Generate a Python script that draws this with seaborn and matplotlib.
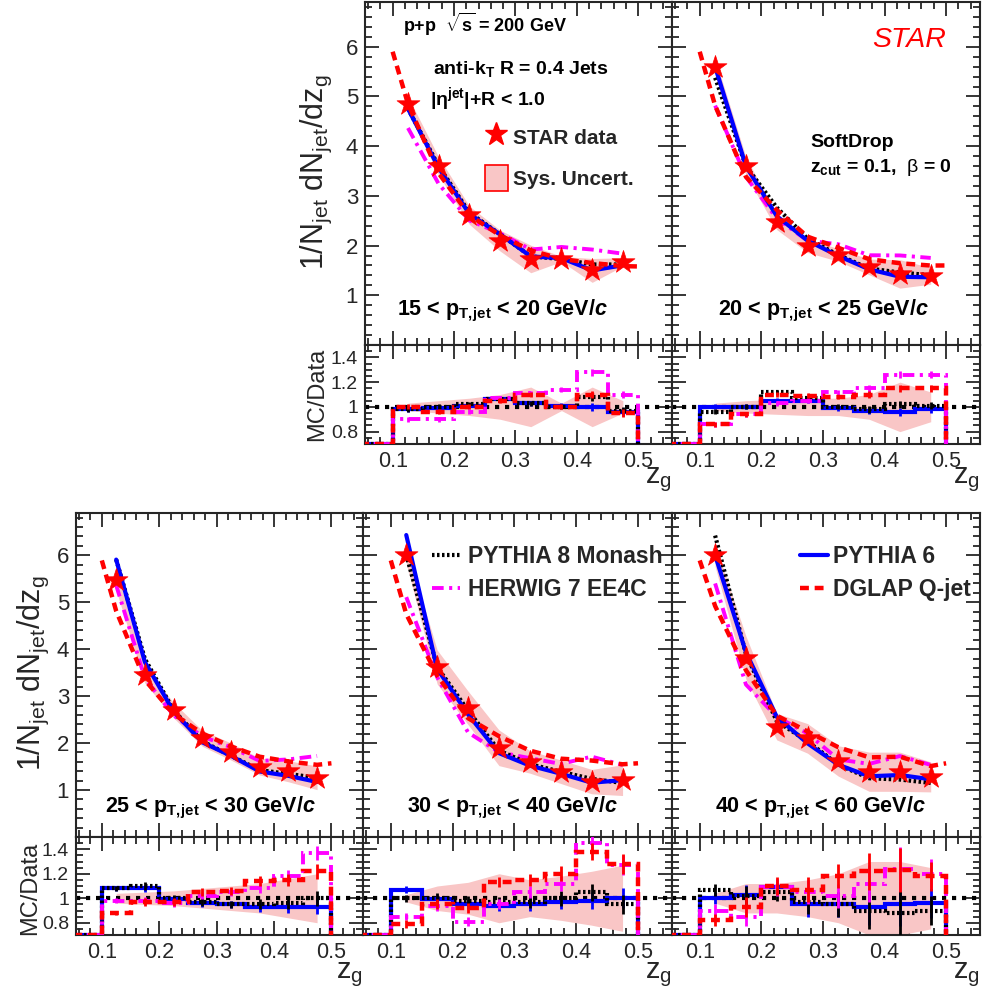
import numpy as np
import pandas as pd
import matplotlib
matplotlib.use("Agg")
import matplotlib.pyplot as plt
import seaborn as sns
from matplotlib.lines import Line2D
from matplotlib.patches import Patch
from matplotlib.ticker import MultipleLocator, FuncFormatter, FixedLocator

# ---------------- data ----------------
bin_edges = [0.10, 0.15, 0.20, 0.25, 0.30, 0.35, 0.40, 0.45, 0.50]
bin_centers = [0.125, 0.175, 0.225, 0.275, 0.325, 0.375, 0.425, 0.475]
panel_keys = ["15_20", "20_25", "25_30", "30_40", "40_60"]
pt_labels = [
    r"15 < $\mathbf{p_{T,\!jet}}$ < 20 GeV/$\mathbfit{c}$",
    r"20 < $\mathbf{p_{T,\!jet}}$ < 25 GeV/$\mathbfit{c}$",
    r"25 < $\mathbf{p_{T,\!jet}}$ < 30 GeV/$\mathbfit{c}$",
    r"30 < $\mathbf{p_{T,\!jet}}$ < 40 GeV/$\mathbfit{c}$",
    r"40 < $\mathbf{p_{T,\!jet}}$ < 60 GeV/$\mathbfit{c}$",
]
main_yticks = [1, 2, 3, 4, 5, 6]
ratio_yticks = [0.8, 1.0, 1.2, 1.4]
ratio_xticks = [0.1, 0.2, 0.3, 0.4, 0.5]

data_15_20 = [4.85, 3.60, 2.61, 2.10, 1.73, 1.73, 1.50, 1.67]
data_20_25 = [5.60, 3.60, 2.47, 2.00, 1.81, 1.57, 1.43, 1.39]
data_25_30 = [5.47, 3.45, 2.70, 2.10, 1.82, 1.50, 1.40, 1.26]
data_30_40 = [6.01, 3.62, 2.75, 1.90, 1.60, 1.39, 1.18, 1.21]
data_40_60 = [6.00, 3.82, 2.35, 2.10, 1.62, 1.39, 1.39, 1.28]

sys_15_20 = [0.03, 0.05, 0.07, 0.10, 0.16, 0.03, 0.16, 0.05]
sys_20_25 = [0.03, 0.05, 0.06, 0.07, 0.07, 0.10, 0.20, 0.12]
sys_25_30 = [0.04, 0.05, 0.06, 0.08, 0.10, 0.12, 0.16, 0.20]
sys_30_40 = [0.03, 0.10, 0.13, 0.20, 0.15, 0.18, 0.22, 0.27]
sys_40_60 = [0.04, 0.12, 0.12, 0.15, 0.20, 0.30, 0.30, 0.25]

py6_15_20 = [0.98, 0.99, 1.01, 1.06, 1.03, 1.01, 1.00, 0.96]
py6_20_25 = [1.00, 1.00, 1.05, 1.05, 0.99, 0.97, 0.96, 0.98]
py6_25_30 = [1.08, 1.08, 0.99, 0.96, 0.95, 0.93, 0.93, 0.93]
py6_30_40 = [1.07, 0.99, 0.95, 0.94, 0.95, 0.97, 0.98, 1.00]
py6_40_60 = [1.00, 1.03, 1.09, 0.95, 0.95, 0.93, 0.95, 0.96]

py8_15_20 = [0.98, 1.00, 1.02, 1.06, 1.03, 1.00, 1.08, 0.97]
py8_20_25 = [0.96, 1.00, 1.12, 1.07, 1.00, 0.98, 1.02, 1.01]
py8_25_30 = [1.08, 1.10, 1.00, 0.97, 0.95, 0.95, 0.96, 1.00]
py8_30_40 = [1.00, 1.00, 0.98, 0.97, 0.97, 1.00, 1.05, 0.95]
py8_40_60 = [1.07, 1.02, 1.05, 0.97, 0.95, 0.90, 0.88, 0.90]

hw7_15_20 = [0.90, 0.90, 0.96, 1.07, 1.11, 1.14, 1.28, 1.10]
hw7_20_25 = [0.86, 0.94, 1.03, 1.05, 1.12, 1.15, 1.26, 1.26]
hw7_25_30 = [0.98, 0.98, 0.96, 1.02, 1.05, 1.08, 1.18, 1.37]
hw7_30_40 = [0.85, 0.94, 0.81, 0.95, 1.05, 1.12, 1.45, 1.27]
hw7_40_60 = [0.90, 0.85, 1.09, 1.05, 1.02, 1.12, 1.24, 1.20]

dglap_15_20 = [1.00, 0.96, 1.00, 1.05, 1.10, 1.00, 1.10, 0.95]
dglap_20_25 = [0.86, 0.94, 1.10, 1.09, 1.08, 1.10, 1.15, 1.15]
dglap_25_30 = [0.88, 0.97, 0.97, 1.05, 1.06, 1.14, 1.15, 1.22]
dglap_30_40 = [0.79, 0.95, 0.92, 1.13, 1.15, 1.20, 1.38, 1.28]
dglap_40_60 = [0.82, 0.93, 1.10, 1.07, 1.18, 1.22, 1.23, 1.18]

# DGLAP curve values at z_g = 0.1 and 0.5 (main panels)
dglap_lo = [5.90, 5.90, 5.89, 5.89, 5.89]
dglap_hi = [1.58, 1.60, 1.57, 1.57, 1.57]

err_15_20 = [0.02, 0.02, 0.02, 0.02, 0.02, 0.02, 0.03, 0.03]
err_20_25 = [0.02, 0.02, 0.02, 0.02, 0.02, 0.03, 0.03, 0.03]
err_25_30 = [0.02, 0.03, 0.03, 0.03, 0.03, 0.04, 0.05, 0.06]
err_30_40 = [0.03, 0.04, 0.04, 0.04, 0.05, 0.06, 0.07, 0.08]
err_40_60 = [0.05, 0.08, 0.07, 0.10, 0.10, 0.15, 0.18, 0.12]

panels = {
    "15_20": dict(data=data_15_20, sys=sys_15_20, py6=py6_15_20, py8=py8_15_20, hw7=hw7_15_20, dglap=dglap_15_20, err=err_15_20),
    "20_25": dict(data=data_20_25, sys=sys_20_25, py6=py6_20_25, py8=py8_20_25, hw7=hw7_20_25, dglap=dglap_20_25, err=err_20_25),
    "25_30": dict(data=data_25_30, sys=sys_25_30, py6=py6_25_30, py8=py8_25_30, hw7=hw7_25_30, dglap=dglap_25_30, err=err_25_30),
    "30_40": dict(data=data_30_40, sys=sys_30_40, py6=py6_30_40, py8=py8_30_40, hw7=hw7_30_40, dglap=dglap_30_40, err=err_30_40),
    "40_60": dict(data=data_40_60, sys=sys_40_60, py6=py6_40_60, py8=py8_40_60, hw7=hw7_40_60, dglap=dglap_40_60, err=err_40_60),
}

# ---------------- style ----------------
sns.set_theme(style="ticks")
plt.rcParams["font.family"] = ["Liberation Sans", "DejaVu Sans"]
plt.rcParams["mathtext.fontset"] = "custom"
plt.rcParams["mathtext.rm"] = "Liberation Sans"
plt.rcParams["mathtext.sf"] = "Liberation Sans"
plt.rcParams["mathtext.it"] = "Liberation Sans:italic"
plt.rcParams["mathtext.bf"] = "Liberation Sans:bold"
plt.rcParams["mathtext.bfit"] = "Liberation Sans:bold:italic"
plt.rcParams["axes.linewidth"] = 1.5

PINK = "#f9c6c6"
STYLES = {
    "py6": dict(color="#0000ff", ls="-", lw=3.0),
    "py8": dict(color="black", ls=(0, (0.6, 0.6)), lw=3.0),
    "hw7": dict(color="#ff00ff", ls=(0, (3.0, 1.4, 0.8, 1.4)), lw=2.8),
    "dglap": dict(color="#ff0000", ls=(0, (2.0, 1.3)), lw=3.2),
}
RATIO_LO, RATIO_HI = 0.7, 1.5
XLIM = (0.055, 0.555)
YLIM = (0.0, 6.9)

W, H = 982, 993
fig = plt.figure(figsize=(W / 100, H / 100), dpi=100)


def rect(x0, x1, y0, y1):
    return [x0 / W, 1 - y1 / H, (x1 - x0) / W, (y1 - y0) / H]


def fxy(x, y):
    return x / W, 1 - y / H


fmt = FuncFormatter(lambda v, p: f"{v:g}")

layout = {
    "15_20": (365, 672, 2, 345, 444),
    "20_25": (672, 980, 2, 345, 444),
    "25_30": (76, 363, 513, 837, 935),
    "30_40": (363, 672, 513, 837, 935),
    "40_60": (672, 980, 513, 837, 935),
}
left_panels = {"15_20", "25_30"}

main_axes = {}
ratio_axes = {}
zc = np.array(bin_centers)
for i, key in enumerate(panel_keys):
    x0, x1, y0, ym, y1 = layout[key]
    p = panels[key]
    data = np.array(p["data"])
    sysr = np.array(p["sys"])
    axm = fig.add_axes(rect(x0, x1, y0, ym))
    axr = fig.add_axes(rect(x0, x1, ym, y1))
    main_axes[key] = axm
    ratio_axes[key] = axr

    # ---- main panel ----
    axm.fill_between(zc, data * (1 - sysr), data * (1 + sysr), color=PINK, lw=0, zorder=1)
    for m in ["hw7", "py8", "py6"]:
        st = STYLES[m]
        sns.lineplot(x=zc, y=data * np.array(p[m]), ax=axm, color=st["color"],
                     linestyle=st["ls"], lw=st["lw"], zorder=3, legend=False,
                     estimator=None)
    dg_x = np.r_[0.10, zc, 0.50]
    dg_y = np.r_[dglap_lo[i], data * np.array(p["dglap"]), dglap_hi[i]]
    st = STYLES["dglap"]
    sns.lineplot(x=dg_x, y=dg_y, ax=axm, color=st["color"], linestyle=st["ls"],
                 lw=st["lw"], zorder=4, legend=False, estimator=None)
    sns.scatterplot(x=zc, y=data, ax=axm, marker="*", s=300, color="#ff0000",
                    edgecolor="#ff0000", linewidth=0.5, zorder=10, legend=False)

    axm.set_xlim(*XLIM)
    axm.set_ylim(*YLIM)
    axm.xaxis.set_major_locator(MultipleLocator(0.1))
    axm.xaxis.set_minor_locator(MultipleLocator(0.02))
    axm.yaxis.set_major_locator(FixedLocator(main_yticks))
    axm.yaxis.set_minor_locator(MultipleLocator(0.2))
    axm.yaxis.set_major_formatter(fmt)
    axm.tick_params(which="both", direction="in", top=True, right=True, width=1.3,
                    labelbottom=False, labelleft=key in left_panels,
                    labelsize=16, pad=5)
    axm.tick_params(which="major", length=10)
    axm.tick_params(which="minor", length=5)
    axm.set_xlabel("")
    axm.set_ylabel("")

    # ---- ratio panel ----
    axr.fill_between(zc, 1 - sysr, 1 + sysr, color=PINK, lw=0, zorder=1)
    axr.axhline(1.0, color="black", ls=(0, (1.0, 1.4)), lw=3.0, zorder=2)
    edges = np.r_[0.0, bin_edges]
    for m in ["py6", "py8", "hw7", "dglap"]:
        st = STYLES[m]
        vals = np.r_[RATIO_LO, p[m]]
        axr.stairs(vals, edges, baseline=RATIO_LO, color=st["color"],
                   linestyle=st["ls"], lw=st["lw"], zorder=3)
        axr.errorbar(zc, p[m], yerr=p["err"], fmt="none", ecolor=st["color"],
                     elinewidth=2.0, capsize=0, zorder=3)
    axr.set_xlim(*XLIM)
    axr.set_ylim(RATIO_LO, RATIO_HI)
    axr.xaxis.set_major_locator(FixedLocator(ratio_xticks))
    axr.xaxis.set_minor_locator(MultipleLocator(0.02))
    axr.yaxis.set_major_locator(FixedLocator(ratio_yticks))
    axr.yaxis.set_minor_locator(MultipleLocator(0.05))
    axr.xaxis.set_major_formatter(fmt)
    axr.yaxis.set_major_formatter(fmt)
    axr.tick_params(which="both", direction="in", top=True, right=True, width=1.3,
                    labelleft=key in left_panels, labelsize=15.5, pad=5)
    axr.tick_params(which="major", length=10)
    axr.tick_params(which="minor", length=5)
    axr.tick_params(axis="y", labelsize=14)

# ---------------- text ----------------
txt = dict(fontweight="bold", color="black")
fig.text(*fxy(397, 315), pt_labels[0], fontsize=15.5, va="baseline", **txt)
fig.text(*fxy(718, 315), pt_labels[1], fontsize=15.5, va="baseline", **txt)
fig.text(*fxy(105, 812), pt_labels[2], fontsize=15.5, va="baseline", **txt)
fig.text(*fxy(407, 812), pt_labels[3], fontsize=15.5, va="baseline", **txt)
fig.text(*fxy(715, 812), pt_labels[4], fontsize=15.5, va="baseline", **txt)

fig.text(*fxy(403, 32), r"p+p  $\mathbf{\sqrt{s}}$ = 200 GeV", fontsize=13, va="baseline", **txt)
fig.text(*fxy(433, 74), r"anti-$\mathbf{k_{T}}$ R = 0.4 Jets", fontsize=14, va="baseline", **txt)
fig.text(*fxy(430, 105), r"|$\mathbf{\eta^{jet}}$|+R < 1.0", fontsize=14, va="baseline", **txt)
fig.text(*fxy(810, 147), "SoftDrop", fontsize=14, va="baseline", **txt)
fig.text(*fxy(810, 172), r"$\mathbf{z_{cut}}$ = 0.1,  $\mathrm{\beta}$ = 0", fontsize=14, va="baseline", **txt)
fig.text(*fxy(872, 47), "STAR", fontsize=20.5, style="italic", color="#ff0000", va="baseline")

# axis titles
fig.text(*fxy(316, 172), r"1/N$_{\rm jet}$ dN$_{\rm jet}$/dz$_{\rm g}$", fontsize=22,
         rotation=90, ha="center", va="center")
fig.text(*fxy(33, 673), r"1/N$_{\rm jet}$ dN$_{\rm jet}$/dz$_{\rm g}$", fontsize=22,
         rotation=90, ha="center", va="center")
fig.text(*fxy(317, 394), "MC/Data", fontsize=17, rotation=90, ha="center", va="center")
fig.text(*fxy(30, 888), "MC/Data", fontsize=17, rotation=90, ha="center", va="center")
for xr, yc in [(672, 480), (980, 480), (363, 975), (672, 975), (980, 975)]:
    fig.text(*fxy(xr, yc), r"z$_{\rm g}$", fontsize=21, ha="right", va="center")

# ---------------- legends ----------------
axA = main_axes["15_20"]
axA.legend(handles=[Line2D([], [], marker="*", ls="none", color="#ff0000", ms=17),
                    Patch(facecolor=PINK, edgecolor="#ff0000", lw=1.2)],
           labels=["STAR data", "Sys. Uncert."], loc="upper left",
           bbox_to_anchor=fxy(485, 124), bbox_transform=fig.transFigure,
           frameon=False, prop={"weight": "bold", "size": 15},
           handlelength=1.1, handleheight=1.54, labelspacing=0.72,
           handletextpad=0.24, borderpad=0, borderaxespad=0)


def line_handle(m):
    st = STYLES[m]
    return Line2D([], [], color=st["color"], ls=st["ls"], lw=st["lw"])


main_axes["30_40"].legend(handles=[line_handle("py8"), line_handle("hw7")],
                          labels=["PYTHIA 8 Monash", "HERWIG 7 EE4C"], loc="upper left",
                          bbox_to_anchor=fxy(432, 545), bbox_transform=fig.transFigure,
                          frameon=False, prop={"weight": "bold", "size": 16.5},
                          handlelength=1.22, labelspacing=0.42, handletextpad=0.35,
                          borderpad=0, borderaxespad=0)
main_axes["40_60"].legend(handles=[line_handle("py6"), line_handle("dglap")],
                          labels=["PYTHIA 6", "DGLAP Q-jet"], loc="upper left",
                          bbox_to_anchor=fxy(800, 545), bbox_transform=fig.transFigure,
                          frameon=False, prop={"weight": "bold", "size": 16.5},
                          handlelength=1.22, labelspacing=0.42, handletextpad=0.22,
                          borderpad=0, borderaxespad=0)

fig.savefig("out.png", dpi=100, facecolor="white")
